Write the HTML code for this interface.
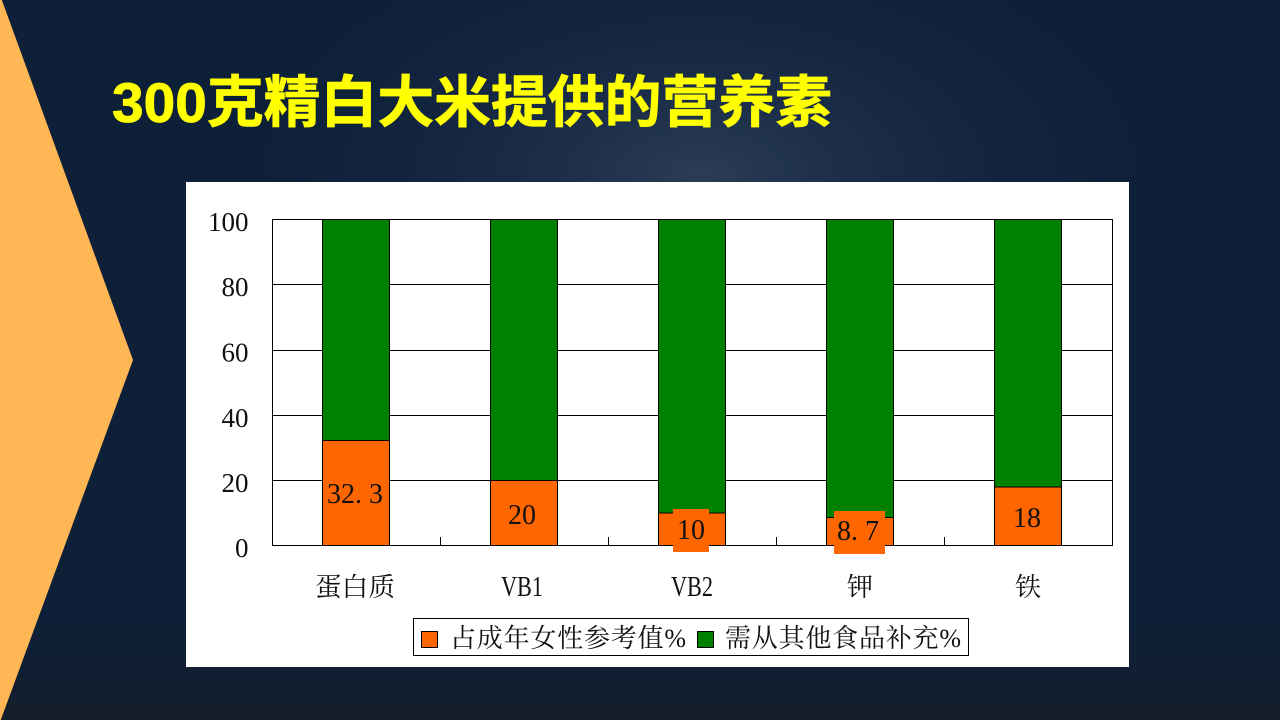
<!DOCTYPE html>
<html><head><meta charset="utf-8"><style>
html,body{margin:0;padding:0;width:1280px;height:720px;overflow:hidden;background:#0e2037;}
svg{display:block}
</style></head><body>
<svg width="1280" height="720" viewBox="0 0 1280 720" xmlns="http://www.w3.org/2000/svg">
<defs>
<radialGradient id="glow" cx="700" cy="175" r="520" gradientUnits="userSpaceOnUse" gradientTransform="translate(700 175) scale(1 0.55) translate(-700 -175)">
<stop offset="0" stop-color="#2a3d54"/>
<stop offset="0.55" stop-color="#17294a" stop-opacity="0.5"/>
<stop offset="1" stop-color="#0e2037" stop-opacity="0"/>
</radialGradient>
<linearGradient id="bot" x1="0" y1="0" x2="0" y2="1">
<stop offset="0" stop-color="#0e2037" stop-opacity="0"/>
<stop offset="1" stop-color="#151d2a"/>
</linearGradient>
</defs>
<rect x="0" y="0" width="1280" height="720" fill="#0e2037"/>
<rect x="0" y="0" width="1280" height="720" fill="url(#glow)"/>
<rect x="0" y="600" width="1280" height="120" fill="url(#bot)"/>
<polygon points="0,-5 133,360 0,722" fill="#ffb655"/>

<text x="112" y="122" font-family="Liberation Sans, Noto Sans CJK SC, sans-serif" font-weight="bold" font-size="56" fill="#ffff00" stroke="#ffff00" stroke-width="0.8" textLength="720" lengthAdjust="spacingAndGlyphs">300克精白大米提供的营养素</text>

<rect x="186" y="182" width="943" height="485" fill="#ffffff"/>

<g stroke="#000" stroke-width="1" fill="none">
<line x1="272" y1="219.5" x2="1112.5" y2="219.5"/>
<line x1="272" y1="284.5" x2="1112.5" y2="284.5"/>
<line x1="272" y1="350.5" x2="1112.5" y2="350.5"/>
<line x1="272" y1="415.5" x2="1112.5" y2="415.5"/>
<line x1="272" y1="480.5" x2="1112.5" y2="480.5"/>
<line x1="272.5" y1="219" x2="272.5" y2="546"/>
<line x1="1112.5" y1="219" x2="1112.5" y2="546"/>
<line x1="440.5" y1="537" x2="440.5" y2="545"/>
<line x1="608.5" y1="537" x2="608.5" y2="545"/>
<line x1="776.5" y1="537" x2="776.5" y2="545"/>
<line x1="944.5" y1="537" x2="944.5" y2="545"/>
</g>

<g stroke="#000" stroke-width="1">
<rect x="322.5" y="219.5" width="67" height="221" fill="#008000"/>
<rect x="322.5" y="440.5" width="67" height="105" fill="#ff6600"/>
<rect x="490.5" y="219.5" width="67" height="261" fill="#008000"/>
<rect x="490.5" y="480.5" width="67" height="65" fill="#ff6600"/>
<rect x="658.5" y="219.5" width="67" height="293.5" fill="#008000"/>
<rect x="658.5" y="513" width="67" height="32.5" fill="#ff6600"/>
<rect x="826.5" y="219.5" width="67" height="298" fill="#008000"/>
<rect x="826.5" y="517.5" width="67" height="28" fill="#ff6600"/>
<rect x="994.5" y="219.5" width="67" height="267.5" fill="#008000"/>
<rect x="994.5" y="487" width="67" height="58.5" fill="#ff6600"/>
</g>
<line x1="272" y1="545.5" x2="1112.5" y2="545.5" stroke="#000" stroke-width="1"/>

<rect x="673" y="509" width="36" height="43" fill="#ff6600"/>
<rect x="834" y="511" width="51" height="43" fill="#ff6600"/>

<g font-family="Liberation Serif, serif" font-size="28" fill="#111">
<text x="327 341 355 369" y="503">32.3</text>
<text x="508 522" y="524">20</text>
<text x="677 691" y="539">10</text>
<text x="837 851 865" y="540">8.7</text>
<text x="1013 1027" y="527">18</text>
</g>

<g font-family="Liberation Serif, serif" font-size="27" fill="#111" text-anchor="end">
<text x="248.5" y="231">100</text>
<text x="248.5" y="296">80</text>
<text x="248.5" y="361.5">60</text>
<text x="248.5" y="427">40</text>
<text x="248.5" y="492">20</text>
<text x="248.5" y="557">0</text>
</g>

<g font-family="Liberation Serif, Noto Serif CJK SC, serif" font-size="26" fill="#111">
<text x="315" y="596" textLength="80" lengthAdjust="spacingAndGlyphs">蛋白质</text>
<text x="501" y="596" font-size="29" textLength="42" lengthAdjust="spacingAndGlyphs">VB1</text>
<text x="671" y="596" font-size="29" textLength="42" lengthAdjust="spacingAndGlyphs">VB2</text>
<text x="847" y="596">钾</text>
<text x="1015" y="596">铁</text>
</g>

<rect x="413.5" y="618.5" width="555" height="37" fill="#fff" stroke="#000" stroke-width="1"/>
<rect x="421.5" y="631.5" width="16" height="16" fill="#ff6600" stroke="#000" stroke-width="1"/>
<rect x="697.5" y="631.5" width="16" height="16" fill="#008000" stroke="#000" stroke-width="1"/>
<g font-family="Liberation Serif, Noto Serif CJK SC, serif" font-size="26" fill="#111">
<text x="450" y="647" textLength="236">占成年女性参考值%</text>
<text x="725" y="647" textLength="236">需从其他食品补充%</text>
</g>
</svg>
</body></html>
